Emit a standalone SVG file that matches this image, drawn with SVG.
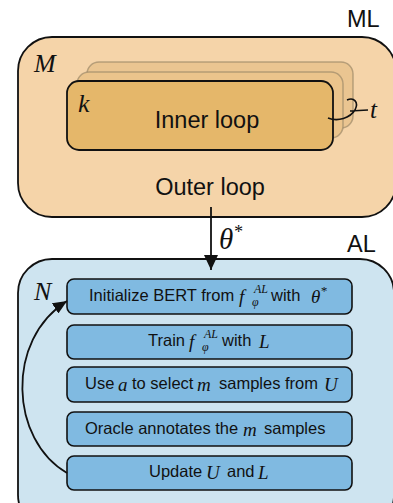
<svg xmlns="http://www.w3.org/2000/svg" width="393" height="503" viewBox="0 0 393 503">
<defs>
<style>
.sans{font-family:"Liberation Sans",Arial,sans-serif;fill:#111}
.math{font-family:"Liberation Serif","Times New Roman",serif;font-style:italic;fill:#111}
.row{fill:#80BAE1;stroke:#111;stroke-width:1.6}
.lbl{font-size:16.5px}
.mv{font-size:19px}
.sup{font-size:12px}
</style>
<marker id="ah" viewBox="0 0 14 12" refX="14" refY="6" markerWidth="14" markerHeight="12" markerUnits="userSpaceOnUse" orient="auto">
<path d="M0,0 L14,6 L0,12 z" fill="#111"/>
</marker>
<marker id="ah2" viewBox="0 0 15 14" refX="15" refY="7" markerWidth="15" markerHeight="14" markerUnits="userSpaceOnUse" orient="auto">
<path d="M0,0 L15,7 L0,14 z" fill="#111"/>
</marker>
</defs>
<rect width="393" height="503" fill="#fff"/>

<g id="ml">
<rect x="18" y="37" width="378" height="180" rx="34" fill="#F5D4A9" stroke="#111" stroke-width="1.8"/>
<text x="347" y="27" class="sans" font-size="23.5">ML</text>
<text x="34" y="72" class="math" font-size="26">M</text>
<text x="210" y="195" class="sans" font-size="23.5" text-anchor="middle">Outer loop</text>
</g>

<g id="inner">
<rect x="87" y="62" width="266" height="66" rx="12" fill="#EAC591" stroke="#9E8A6A" stroke-width="1.5" stroke-opacity="0.7"/>
<rect x="77" y="72" width="266" height="66" rx="12" fill="#EBC48C" stroke="#9E8A6A" stroke-width="1.5" stroke-opacity="0.7"/>
<rect x="67" y="81" width="266" height="69" rx="12" fill="#E5B76A" stroke="#111" stroke-width="1.8"/>
<text x="78" y="112" class="math" font-size="26">k</text>
<text x="207" y="128" class="sans" font-size="23.5" text-anchor="middle">Inner loop</text>
<path d="M328,118 C338,122 350,118 355,110 C359,102 354,97 347,100 M350,111 L368,110" fill="none" stroke="#111" stroke-width="1.6"/>
<text x="370" y="118" class="math" font-size="25">t</text>
</g>

<g id="al">
<rect x="18" y="259" width="376" height="270" rx="34" fill="#CEE4F0" stroke="#111" stroke-width="1.8"/>
<text x="347" y="252" class="sans" font-size="23.5">AL</text>
<text x="34" y="300" class="math" font-size="26">N</text>
</g>

<g id="row1">
<rect class="row" x="67" y="279" width="285" height="35" rx="7"/>
<text x="89" y="301" class="sans lbl">Initialize BERT from</text>
<text x="239" y="303" class="math mv">f</text>
<text x="254" y="293" class="math sup">AL</text>
<text x="252" y="306" class="math sup">φ</text>
<text x="271" y="301" class="sans lbl">with</text>
<text x="311" y="303" class="math mv">θ<tspan dy="-8" font-size="13">*</tspan></text>
</g>

<g id="row2">
<rect class="row" x="67" y="325" width="285" height="34" rx="7"/>
<text x="148" y="346" class="sans lbl">Train</text>
<text x="189" y="348" class="math mv">f</text>
<text x="204" y="338" class="math sup">AL</text>
<text x="202" y="351" class="math sup">φ</text>
<text x="222" y="346" class="sans lbl">with</text>
<text x="259" y="348" class="math mv">L</text>
</g>

<g id="row3">
<rect class="row" x="67" y="367" width="285" height="35" rx="7"/>
<text x="85" y="389" class="sans lbl">Use</text>
<text x="118" y="391" class="math mv">a</text>
<text x="132" y="389" class="sans lbl">to select</text>
<text x="197" y="391" class="math mv">m</text>
<text x="219" y="389" class="sans lbl">samples from</text>
<text x="324" y="391" class="math mv">U</text>
</g>

<g id="row4">
<rect class="row" x="67" y="412" width="285" height="34" rx="7"/>
<text x="85" y="434" class="sans lbl">Oracle annotates the</text>
<text x="243" y="436" class="math mv">m</text>
<text x="264" y="434" class="sans lbl">samples</text>
</g>

<g id="row5">
<rect class="row" x="67" y="456" width="285" height="34" rx="7"/>
<text x="149" y="477" class="sans lbl">Update</text>
<text x="206" y="479" class="math mv">U</text>
<text x="227" y="477" class="sans lbl">and</text>
<text x="258" y="479" class="math mv">L</text>
</g>

<g id="connectors">
<line x1="211" y1="207" x2="211" y2="270" stroke="#111" stroke-width="1.8" marker-end="url(#ah2)"/>
<text x="219" y="249" class="math" font-size="29">θ<tspan dy="-11" font-size="18">*</tspan></text>
<path d="M67,473 C10,440 5,340 67,301" fill="none" stroke="#111" stroke-width="1.8" marker-end="url(#ah)"/>
</g>
</svg>
